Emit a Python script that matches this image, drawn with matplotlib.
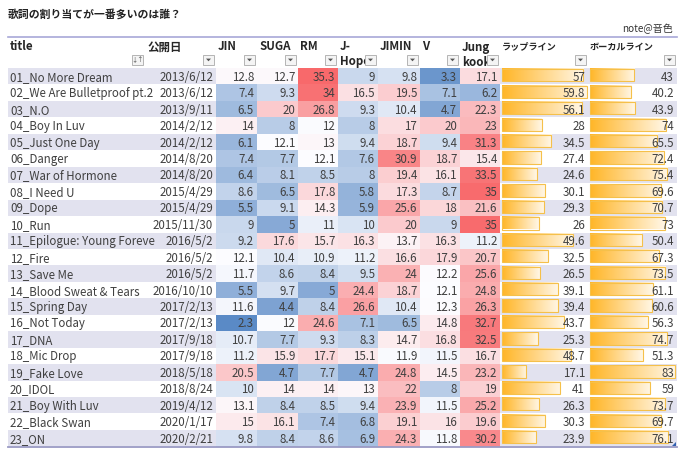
import numpy as np
import matplotlib
matplotlib.use("Agg")
import matplotlib.pyplot as plt
from matplotlib.patches import Rectangle, Polygon
from matplotlib.colors import to_rgb

plt.rcParams['font.family'] = ['Noto Sans CJK JP', 'DejaVu Sans']

titles = ["01_No More Dream", "02_We Are Bulletproof pt.2", "03_N.O", "04_Boy In Luv",
          "05_Just One Day", "06_Danger", "07_War of Hormone", "08_I Need U", "09_Dope",
          "10_Run", "11_Epilogue: Young Foreve", "12_Fire", "13_Save Me",
          "14_Blood Sweat & Tears", "15_Spring Day", "16_Not Today", "17_DNA",
          "18_Mic Drop", "19_Fake Love", "20_IDOL", "21_Boy With Luv", "22_Black Swan", "23_ON"]
dates = ["2013/6/12", "2013/6/12", "2013/9/11", "2014/2/12", "2014/2/12", "2014/8/20",
         "2014/8/20", "2015/4/29", "2015/4/29", "2015/11/30", "2016/5/2", "2016/5/2",
         "2016/5/2", "2016/10/10", "2017/2/13", "2017/2/13", "2017/9/18", "2017/9/18",
         "2018/5/18", "2018/8/24", "2019/4/12", "2020/1/17", "2020/2/21"]
jin = [12.8, 7.4, 6.5, 14, 6.1, 7.4, 6.4, 8.6, 5.5, 9, 9.2, 12.1, 11.7, 5.5, 11.6, 2.3, 10.7, 11.2, 20.5, 10, 13.1, 15, 9.8]
suga = [12.7, 9.3, 20, 8, 12.1, 7.7, 8.1, 6.5, 9.1, 5, 17.6, 10.4, 8.6, 9.7, 4.4, 12, 7.7, 15.9, 4.7, 14, 8.4, 16.1, 8.4]
rm = [35.3, 34, 26.8, 12, 13, 12.1, 8.5, 17.8, 14.3, 11, 15.7, 10.9, 8.4, 5, 8.4, 24.6, 9.3, 17.7, 7.7, 14, 8.5, 7.4, 8.6]
jhope = [9, 16.5, 9.3, 8, 9.4, 7.6, 8, 5.8, 5.9, 10, 16.3, 11.2, 9.5, 24.4, 26.6, 7.1, 8.3, 15.1, 4.7, 13, 9.4, 6.8, 6.9]
jimin = [9.8, 19.5, 10.4, 17, 18.7, 30.9, 19.4, 17.3, 25.6, 20, 13.7, 16.6, 24, 18.7, 10.4, 6.5, 14.7, 11.9, 24.8, 22, 23.9, 19.1, 24.3]
v = [3.3, 7.1, 4.7, 20, 9.4, 18.7, 16.1, 8.7, 18, 9, 16.3, 17.9, 12.2, 12.1, 12.3, 14.8, 16.8, 11.5, 14.5, 8, 11.5, 16, 11.8]
jungkook = [17.1, 6.2, 22.3, 23, 31.3, 15.4, 33.5, 35, 21.6, 35, 11.2, 20.7, 25.6, 24.8, 26.3, 32.7, 32.5, 16.7, 23.2, 19, 25.2, 19.6, 30.2]
rapline = [57, 59.8, 56.1, 28, 34.5, 27.4, 24.6, 30.1, 29.3, 26, 49.6, 32.5, 26.5, 39.1, 39.4, 43.7, 25.3, 48.7, 17.1, 41, 26.3, 30.3, 23.9]
vocalline = [43, 40.2, 43.9, 74, 65.5, 72.4, 75.4, 69.6, 70.7, 73, 50.4, 67.3, 73.5, 61.1, 60.6, 56.3, 74.7, 51.3, 83, 59, 73.7, 69.7, 76.1]

members = [jin, suga, rm, jhope, jimin, v, jungkook]
header1 = ["title", "公開日", "JIN", "SUGA", "RM", "J-", "JIMIN", "V", "Jung", "ラップライン", "ボーカルライン"]
header2 = ["", "", "", "", "", "Hope", "", "", "kook", "", ""]

# column edges (pixels)
edges = [8, 145, 216, 257, 298, 338, 378, 420, 460, 500, 588, 677]

W, H = 680, 452
fig = plt.figure(figsize=(W / 100, H / 100), dpi=100)
ax = fig.add_axes([0, 0, 1, 1])
ax.set_xlim(0, W)
ax.set_ylim(H, 0)
ax.axis('off')

FS = 8.3
TXT = '#404040'
LAV = '#e2e2ef'
row_top0 = 69.0
pitch = 16.45
n = len(titles)

# color scale (Excel red-white-blue)
allv = np.array(members).ravel()
vmin, vmax, vmid = allv.min(), allv.max(), np.percentile(allv, 50)
cmin = np.array(to_rgb('#5A8AC6'))
cmid = np.array(to_rgb('#FCFCFF'))
cmax = np.array(to_rgb('#F8696B'))


def scale_color(x):
    if x <= vmid:
        t = (x - vmin) / (vmid - vmin)
        return cmin + (cmid - cmin) * t
    t = (x - vmid) / (vmax - vmid)
    return cmid + (cmax - cmid) * t


# title
ax.text(8, 14, "歌詞の割り当てが一番多いのは誰？", fontsize=7.8, fontweight='bold',
        color='#222222', va='center', ha='left')
ax.text(673, 29, "note@音色", fontsize=7.2, color='#333333', va='center', ha='right')

# header
ax.plot([8, 677], [37.5, 37.5], color='#a8a8d8', lw=1.2)
for j, (h1, h2) in enumerate(zip(header1, header2)):
    x0 = edges[j] + 2
    fs = 6.6 if j >= 9 else FS
    ax.text(x0, 47, h1, fontsize=fs, fontweight='bold', color='#262626', va='center', ha='left')
    if h2:
        ax.text(x0, 62, h2, fontsize=FS, fontweight='bold', color='#262626', va='center', ha='left')
    # filter button
    bx1 = edges[j + 1] - 2
    bx0 = bx1 - 11
    ax.add_patch(Rectangle((bx0, 55.5), 11, 10.5, facecolor='#f4f4f4', edgecolor='#b4b4b4',
                           lw=0.7, zorder=5))
    if j == 0:
        ax.text(bx0 + 5.5, 60.5, "↓↑", fontsize=4.5, color='#444444', ha='center', va='center',
                zorder=6)
    else:
        cx, cy = bx0 + 5.5, 60.8
        ax.add_patch(Polygon([[cx - 2.5, cy - 1.2], [cx + 2.5, cy - 1.2], [cx, cy + 1.5]],
                             closed=True, facecolor='#555555', edgecolor='none', zorder=6))

# rows
orange = np.array(to_rgb('#FFB628'))
light = orange + (np.ones(3) - orange) * 0.88
grad = np.linspace(0, 1, 64)[None, :, None]
grad_img = orange[None, None, :] * (1 - grad) + light[None, None, :] * grad
bar_max = {9: (max(rapline), 85.0), 10: (max(vocalline), 85.0)}

for i in range(n):
    top = row_top0 + i * pitch
    bot = top + pitch
    yc = top + pitch / 2
    if i % 2 == 0:
        ax.add_patch(Rectangle((edges[0], top), edges[-1] - edges[0], pitch,
                               facecolor=LAV, edgecolor='none', zorder=0))
    ax.text(edges[0] + 2, yc, titles[i], fontsize=FS, color=TXT, va='center', ha='left')
    ax.text(edges[2] - 3, yc, dates[i], fontsize=FS, color=TXT, va='center', ha='right')
    for k, col in enumerate(members):
        j = k + 2
        val = col[i]
        ax.add_patch(Rectangle((edges[j], top), edges[j + 1] - edges[j], pitch + 0.2,
                               facecolor=scale_color(val), edgecolor='none', zorder=1))
        ax.text(edges[j + 1] - 3, yc, f"{val:g}", fontsize=FS, color=TXT, va='center',
                ha='right', zorder=3)
    for j, col in ((9, rapline), (10, vocalline)):
        val = col[i]
        mx, blen = bar_max[j]
        x0 = edges[j] + 2
        w = val / mx * blen
        ax.imshow(grad_img, extent=(x0, x0 + w, bot - 3, top + 1.2), aspect='auto',
                  interpolation='bilinear', zorder=2)
        ax.add_patch(Rectangle((x0, top + 1.2), w, pitch - 4.2, facecolor='none',
                               edgecolor='#f5c04a', lw=0.8, zorder=2.5))
        ax.text(edges[j + 1] - 3, yc, f"{val:g}", fontsize=FS, color=TXT, va='center',
                ha='right', zorder=3)

table_bottom = row_top0 + n * pitch
ax.plot([8, 677], [table_bottom + 0.5, table_bottom + 0.5], color='#9a9ac4', lw=1.3)
ax.add_patch(Polygon([[676, table_bottom - 4], [676, table_bottom], [672, table_bottom]],
                     closed=True, facecolor='#3060b0', edgecolor='none', zorder=6))

ax.set_xlim(0, W)
ax.set_ylim(H, 0)
ax.set_aspect('auto')
fig.savefig("out.png", dpi=100)
